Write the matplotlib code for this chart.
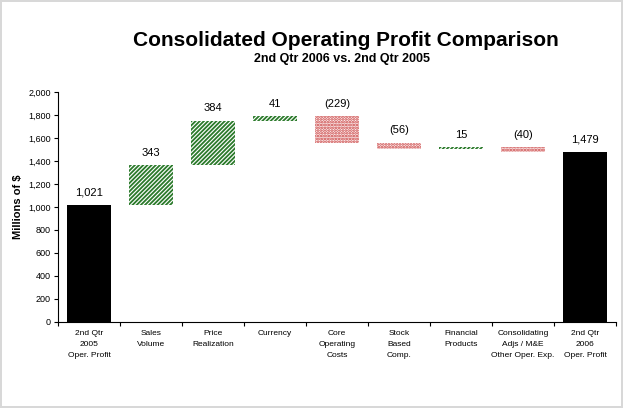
import numpy as np
import matplotlib.pyplot as plt
from matplotlib.ticker import FuncFormatter

plt.rcParams['font.family'] = ['Liberation Sans', 'DejaVu Sans']
plt.rcParams['hatch.linewidth'] = 1.3

categories = ['2nd Qtr\n2005\nOper. Profit', 'Sales\nVolume', 'Price\nRealization',
              'Currency', 'Core\nOperating\nCosts', 'Stock\nBased\nComp.',
              'Financial\nProducts', 'Consolidating\nAdjs / M&E\nOther Oper. Exp.',
              '2nd Qtr\n2006\nOper. Profit']
start_value = 1021
changes = [343, 384, 41, -229, -56, 15, -40]
end_value = 1479

green = '#2b7a2b'
red = '#c83c3c'

fig = plt.figure(figsize=(6.23, 4.08), dpi=100)
fig.patch.set_edgecolor('#d8d8d8')
fig.patch.set_linewidth(1.5)
ax = fig.add_axes([0.0931, 0.2108, 0.8957, 0.5637])

x = np.arange(len(categories))
w = 0.71

# totals
ax.bar(x[0], start_value, width=w, color='black')
ax.bar(x[-1], end_value, width=w, color='black')

# waterfall steps
level = start_value
tops = [start_value]
for i, c in enumerate(changes):
    lo = min(level, level + c)
    if c > 0:
        ax.bar(x[i + 1], abs(c), bottom=lo, width=w, color='white',
               edgecolor=green, hatch='////////', linewidth=0)
    else:
        ax.bar(x[i + 1], abs(c), bottom=lo, width=w, color='#fcf0f0',
               edgecolor=red, hatch='......', linewidth=0)
    level += c
    tops.append(max(level, level - c))
tops.append(end_value)

labels = ['1,021'] + [f'{c}' if c > 0 else f'({-c})' for c in changes] + ['1,479']
for xi, t, lab in zip(x, tops, labels):
    ax.annotate(lab, (xi, t), xytext=(0, 9), textcoords='offset points',
                ha='center', va='center', fontsize=8)

ax.set_xlim(-0.5, len(categories) - 0.5)
ax.set_ylim(0, 2000)
ax.set_yticks(np.arange(0, 2001, 200))
ax.yaxis.set_major_formatter(FuncFormatter(lambda v, p: f'{int(v):,}'))
ax.tick_params(axis='y', labelsize=6.5, length=3, width=0.8, pad=2)

ax.set_xticks(x)
ax.set_xticklabels(categories, fontsize=6, linespacing=1.75, va='top')
ax.set_xticks(np.arange(-0.5, len(categories)), minor=True)
ax.tick_params(axis='x', which='major', length=0, pad=6)
ax.tick_params(axis='x', which='minor', length=3, width=0.8)

for s in ['top', 'right']:
    ax.spines[s].set_visible(False)
ax.spines['left'].set_linewidth(0.8)
ax.spines['bottom'].set_linewidth(0.8)

ax.set_ylabel('Millions of $', fontsize=8, fontweight='bold', labelpad=4)

fig.text(346 / 623, 1 - 41 / 408, 'Consolidated Operating Profit Comparison',
         ha='center', va='center', fontsize=15, fontweight='bold')
fig.text(342 / 623, 1 - 59 / 408, '2nd Qtr 2006 vs. 2nd Qtr 2005',
         ha='center', va='center', fontsize=9, fontweight='bold')

fig.savefig('out.png', dpi=100)
